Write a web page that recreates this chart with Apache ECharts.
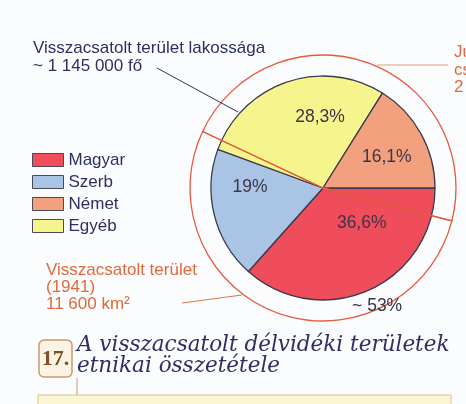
<!DOCTYPE html>
<html>
<head>
<meta charset="utf-8">
<script src="https://cdn.jsdelivr.net/npm/echarts@6/dist/echarts.min.js"></script>
<style>
  html, body { margin: 0; padding: 0; background: #fbfcfe; }
  #chart { width: 466px; height: 404px; }
</style>
</head>
<body>
<div id="chart"></div>
<script>
// Ethnic composition of the reannexed southern territories (1941)
const categories = ['Magyar', 'Szerb', 'Egyéb', 'Német'];
const shares = [36.6, 19, 28.3, 16.1];
const legendOrder = ['Magyar', 'Szerb', 'Német', 'Egyéb'];

// Share of the reannexed area within the whole outer circle
const areaParts = ['Visszacsatolt terület', 'Jugoszláviánál maradt'];
const areaShares = [53, 47];

const populationNote = ['Visszacsatolt terület lakossága', '~ 1 145 000 fő'];
const areaNote = ['Visszacsatolt terület', '(1941)', '11 600 km²'];
const sideNote = ['Ju', 'cs', '2'];
const figureNumber = '17.';
const figureTitle = ['A visszacsatolt délvidéki területek', 'etnikai összetétele'];

// ---- styling ----
const sliceColors = {
  'Magyar': '#ef4c5c',
  'Szerb': '#a9c4e4',
  'Német': '#f3a07e',
  'Egyéb': '#f6f48c'
};
const CX = 323, CY = 188;
// label placement around the centre: [screen angle in degrees, distance]
const labelPolar = {
  'Magyar': [41.9, 52],
  'Szerb': [180.8, 73],
  'Egyéb': [267.6, 71],
  'Német': [334, 71]
};
const ringLabelPolar = [65.4, 130];

const SANS = '"Liberation Sans", Arial, sans-serif';
const SERIF = '"DejaVu Serif", "Liberation Serif", serif';
const NAVY = '#2c3062';
const ORANGE = '#e0693d';
const RING = '#e65a3c';

function polar(a, r) {
  const t = a * Math.PI / 180;
  return [CX + r * Math.cos(t), CY + r * Math.sin(t)];
}
function pct(v) { return String(v).replace('.', ',') + '%'; }

const chart = echarts.init(document.getElementById('chart'), null, { renderer: 'canvas' });

const innerData = categories.map((c, i) => ({
  name: c,
  value: shares[i],
  itemStyle: { color: sliceColors[c] }
}));

const ringData = areaParts.map((n, i) => ({
  name: n,
  value: areaShares[i],
  label: { show: i === 0 }
}));

chart.setOption({
  backgroundColor: '#fbfcfe',
  animation: false,
  legend: {
    data: legendOrder,
    orient: 'vertical',
    left: 32,
    top: 151,
    padding: 0,
    itemWidth: 31,
    itemHeight: 13,
    itemGap: 4,
    icon: 'rect',
    selectedMode: false,
    itemStyle: { borderColor: '#4a4a55', borderWidth: 1 },
    textStyle: { fontFamily: SANS, fontSize: 17, color: NAVY, lineHeight: 18 }
  },
  series: [
    {
      type: 'pie',
      name: 'Nemzetiség',
      center: [CX, CY],
      radius: 112,
      startAngle: 0,
      clockwise: true,
      silent: true,
      avoidLabelOverlap: false,
      itemStyle: { borderColor: '#3a3a4c', borderWidth: 1.3 },
      label: {
        show: true,
        position: 'inside',
        fontFamily: SANS,
        fontSize: 17.5,
        color: '#3d3548',
        formatter: p => pct(p.value)
      },
      labelLine: { show: false },
      labelLayout: p => {
        const pos = polar(...labelPolar[categories[p.dataIndex]]);
        return { x: pos[0], y: pos[1], align: 'center', verticalAlign: 'middle' };
      },
      emphasis: { disabled: true },
      data: innerData,
      z: 2
    },
    {
      type: 'pie',
      name: 'Terület',
      center: [CX, CY],
      radius: 133,
      startAngle: -14.35,
      clockwise: true,
      silent: true,
      avoidLabelOverlap: false,
      itemStyle: { color: 'rgba(0,0,0,0)', borderColor: RING, borderWidth: 1.3 },
      label: {
        position: 'inside',
        fontFamily: SANS,
        fontSize: 17.5,
        color: '#35344e',
        formatter: p => '~ ' + pct(p.value)
      },
      labelLine: { show: false },
      labelLayout: () => {
        const pos = polar(...ringLabelPolar);
        return { x: pos[0], y: pos[1], align: 'center', verticalAlign: 'middle' };
      },
      emphasis: { disabled: true },
      data: ringData,
      z: 3
    }
  ],
  graphic: [
    // population note and its leader line
    {
      type: 'text', left: 33, top: 39, silent: true,
      style: { text: populationNote.join('\n'), font: '17px ' + SANS, fill: NAVY, lineHeight: 18 }
    },
    {
      type: 'line', silent: true, z: 10,
      shape: { x1: 157, y1: 68, x2: 238, y2: 112 },
      style: { stroke: '#2f3550', lineWidth: 1 }
    },
    // area note and its leader line
    {
      type: 'text', left: 46, top: 262, silent: true,
      style: { text: areaNote.join('\n'), font: '17px ' + SANS, fill: ORANGE, lineHeight: 17 }
    },
    {
      type: 'line', silent: true,
      shape: { x1: 182, y1: 303, x2: 242, y2: 295 },
      style: { stroke: '#d9774c', lineWidth: 1 }
    },
    // note on the right edge
    {
      type: 'line', silent: true,
      shape: { x1: 377, y1: 65, x2: 448, y2: 65 },
      style: { stroke: '#e49a76', lineWidth: 1 }
    },
    {
      type: 'text', left: 454, top: 44, silent: true,
      style: { text: sideNote.join('\n'), font: '17px ' + SANS, fill: ORANGE, lineHeight: 17.5 }
    },
    // figure number box
    {
      type: 'rect', silent: true,
      shape: { x: 39, y: 340, width: 33, height: 37, r: 5 },
      style: { fill: '#fdf3e2', stroke: '#c39c70', lineWidth: 1.5 }
    },
    {
      type: 'text', silent: true, x: 55.5, y: 359.5,
      style: { text: figureNumber, font: 'bold 22px "Liberation Serif", serif', fill: '#7c5129', align: 'center', verticalAlign: 'middle' }
    },
    {
      type: 'text', left: 77, top: 334, silent: true,
      style: { text: figureTitle.join('\n'), font: 'italic 21.5px ' + SERIF, fill: NAVY, lineHeight: 21 }
    },
    // text panel below the title
    {
      type: 'line', silent: true,
      shape: { x1: 77, y1: 378, x2: 77, y2: 395 },
      style: { stroke: '#bb9a72', lineWidth: 1 }
    },
    {
      type: 'rect', silent: true,
      shape: { x: 38, y: 395, width: 413, height: 20 },
      style: { fill: '#fdf6d4', stroke: '#d8c38e', lineWidth: 1 }
    }
  ]
});
</script>
</body>
</html>
